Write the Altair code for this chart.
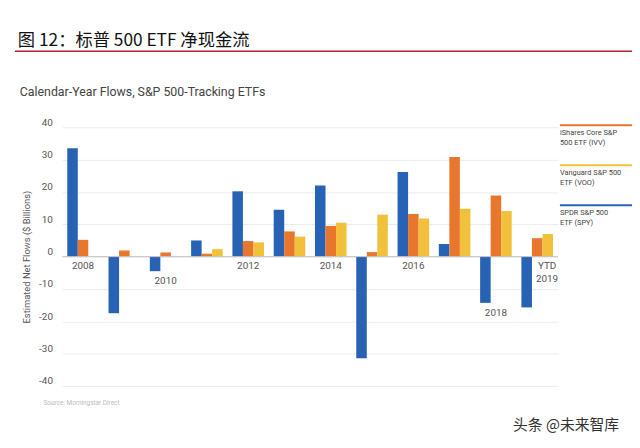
import altair as alt
import pandas as pd

# ---- data ----
years = ["2008", "2009", "2010", "2011", "2012", "2013", "2014", "2015",
         "2016", "2017", "2018", "YTD 2019"]
spy = [33.5, -17.5, -4.5, 5.0, 20.2, 14.5, 22.0, -31.4, 26.2, 3.9, -14.3, -15.7]
ivv = [5.2, 1.9, 1.3, 0.9, 4.8, 7.8, 9.5, 1.4, 13.2, 30.8, 18.9, 5.7]
voo = [None, None, None, 2.3, 4.4, 6.2, 10.5, 13.0, 11.8, 14.8, 14.1, 7.0]

series_keys = ["SPY", "IVV", "VOO"]
series_colors = ["#2762b5", "#e8762d", "#f2c13b"]
legend_order = ["IVV", "VOO", "SPY"]
legend_texts = ["iShares Core S&P\n500 ETF (IVV)", "Vanguard S&P 500\nETF (VOO)",
                "SPDR S&P 500\nETF (SPY)"]

label_years = ["2008", "2010", "2012", "2014", "2016", "2018"]
last_label = "YTD\n2019"
y_ticks = [-40, -30, -20, -10, 0, 10, 20, 30, 40]

title_cn = "图 12：标普 500 ETF 净现金流"
subtitle = "Calendar-Year Flows, S&P 500-Tracking ETFs"
y_title = "Estimated Net Flows ($ Billions)"
source = "Source: Morningstar Direct"
watermark = "头条 @未来智库"

LAT = "Roboto"
CJK = "Noto Sans CJK SC"

# ---- tables ----
rows = []
for k, vals in zip(series_keys, [spy, ivv, voo]):
    for yr, v in zip(years, vals):
        if v is not None:
            rows.append({"year": yr, "series": k, "value": v})
df = pd.DataFrame(rows)

spy_by_year = dict(zip(years, spy))
lab = pd.DataFrame({
    "year": label_years,
    "text": label_years,
    "ly": [min(spy_by_year[y], 0) for y in label_years],
})
lab_last = pd.DataFrame({"year": [years[-1]], "text": [last_label], "ly": [0]})
one = pd.DataFrame({"k": [0]})

xscale = alt.Scale(domain=years, paddingInner=0.235, paddingOuter=0.12)
yscale = alt.Scale(domain=[-40, 40], nice=False, zero=False)
yaxis = alt.Axis(values=y_ticks, title=y_title, grid=True, gridColor="#ececec",
                 domain=False, ticks=False, labelColor="#555", labelFont=LAT,
                 labelFontSize=10, labelPadding=10, labelOverlap=False,
                 labelBaseline="bottom", labelFlush=False,
                 labelExpr="datum.value < 0 ? '-' + abs(datum.value) : '' + datum.value",
                 titleFont=LAT, titleFontSize=9.5, titleFontWeight="normal",
                 titleColor="#555", titlePadding=7)

bars = alt.Chart(df).mark_bar().encode(
    x=alt.X("year:N", scale=xscale, axis=None, sort=years),
    xOffset=alt.XOffset("series:N", scale=alt.Scale(domain=series_keys, paddingInner=0, paddingOuter=0)),
    y=alt.Y("value:Q", scale=yscale, axis=yaxis, title=y_title),
    color=alt.Color("series:N", scale=alt.Scale(domain=series_keys, range=series_colors),
                    legend=None),
)

zero = alt.Chart(pd.DataFrame({"v": [0]})).mark_rule(color="#c4c4c4", strokeWidth=1).encode(
    y=alt.Y("v:Q", scale=yscale, axis=yaxis, title=y_title))

labels = alt.Chart(lab).mark_text(baseline="top", dy=5, font=LAT, fontSize=10,
                                  color="#555").encode(
    x=alt.X("year:N", scale=xscale, sort=years, axis=None),
    y=alt.Y("ly:Q", scale=yscale, axis=yaxis, title=y_title),
    text="text:N",
)
labels_last = alt.Chart(lab_last).mark_text(baseline="top", dy=5, dx=10, font=LAT, fontSize=10,
                                            color="#555", lineBreak="\n", lineHeight=13).encode(
    x=alt.X("year:N", scale=xscale, sort=years, axis=None),
    y=alt.Y("ly:Q", scale=yscale, axis=yaxis, title=y_title),
    text="text:N",
)

layers = [bars, zero, labels, labels_last]

# legend drawn as line + text blocks on the right
for i, (k, t) in enumerate(zip(legend_order, legend_texts)):
    col = series_colors[series_keys.index(k)]
    ytop = -2 + i * 40.5
    layers.append(alt.Chart(one).mark_rule(color=col, strokeWidth=2).encode(
        x=alt.value(504), x2=alt.value(580), y=alt.value(ytop)))
    layers.append(alt.Chart(one).mark_text(align="left", baseline="top", font=LAT,
                                           fontSize=7.5, color="#444", lineBreak="\n",
                                           lineHeight=10.5).encode(
        x=alt.value(504), y=alt.value(ytop + 3.5), text=alt.value(t)))

# titles and decorations
layers.append(alt.Chart(one).mark_text(align="left", baseline="alphabetic",
                                       font=CJK, fontSize=17.5, color="#111").encode(
    x=alt.value(-45), y=alt.value(-82), text=alt.value(title_cn)))
layers.append(alt.Chart(one).mark_rule(color="#b0232a", strokeWidth=1.5).encode(
    x=alt.value(-48), x2=alt.value(600), y=alt.value(-77)))
layers.append(alt.Chart(one).mark_text(align="left", baseline="alphabetic",
                                       font=LAT, fontSize=12.5, color="#444").encode(
    x=alt.value(-43), y=alt.value(-32), text=alt.value(subtitle)))
layers.append(alt.Chart(one).mark_text(align="left", baseline="middle",
                                       font=LAT, fontSize=6.5, color="#bbbbbb").encode(
    x=alt.value(-19), y=alt.value(279), text=alt.value(source)))
layers.append(alt.Chart(one).mark_text(align="right", baseline="middle",
                                       font=CJK, fontSize=15, color="#333").encode(
    x=alt.value(564), y=alt.value(302), text=alt.value(watermark)))

chart = alt.layer(*layers).properties(
    width=502, height=262,
    autosize=alt.AutoSizeParams(type="none"),
    padding={"left": 55, "top": 118, "right": 75, "bottom": 60},
    background="white",
).configure_view(stroke=None)

chart.save("out.html", embed_options={"renderer": "svg", "actions": False})
